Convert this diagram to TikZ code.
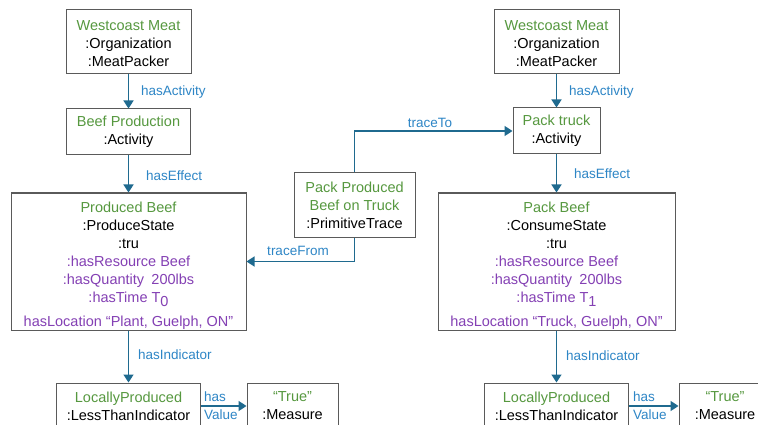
\documentclass[tikz,border=0pt]{standalone}
\usepackage{fontspec}
\setmainfont{Liberation Sans}
\usetikzlibrary{arrows.meta}
\definecolor{tgreen}{HTML}{56983F}
\definecolor{tblue}{HTML}{2E86C6}
\definecolor{tpurple}{HTML}{8440B4}
\definecolor{tarrow}{HTML}{1F6A8F}
\definecolor{tborder}{HTML}{5A5A5A}
\newcommand{\gr}[1]{\textcolor{tgreen}{#1}}
\newcommand{\pu}[1]{\textcolor{tpurple}{#1}}
\begin{document}
\begin{tikzpicture}[x=1pt,y=-1pt,
 box/.style={draw=tborder, line width=1pt, align=center, inner sep=0pt, font=\fontsize{14.5}{18}\selectfont, text=black},
 conn/.style={draw=tarrow, line width=1.6pt, -{Triangle[length=8pt,width=10pt]}},
 lbl/.style={text=tblue, font=\fontsize{13.5}{18}\selectfont, inner sep=0pt, align=left},
]
\useasboundingbox (0,0) rectangle (758,425);
\fill[white] (0,0) rectangle (758,425);
\clip (0,0) rectangle (758,425);
% left column
\node[box, minimum width=125pt, minimum height=64pt] (wm1) at (128.5,42) {\rule{0pt}{13pt}\gr{Westcoast Meat}\\:Organization\\:MeatPacker};
\node[box, minimum width=124pt, minimum height=46pt] (bp) at (128.5,132) {\gr{Beef Production}\\:Activity};
\node[box, minimum width=235pt, minimum height=137pt] (pb1) at (128.5,261.5) {\rule{0pt}{19pt}\gr{Produced Beef}\\:ProduceState\\:tru\\\pu{:hasResource Beef}\\\pu{:hasQuantity\hspace{0.5em}200lbs}\\\pu{:hasTime T\raisebox{-4pt}{0}}\\[6pt]\pu{hasLocation “Plant, Guelph, ON”}};
\node[box, minimum width=144pt, minimum height=46pt] (lp1) at (128.5,406) {\gr{LocallyProduced}\\:LessThanIndicator};
\node[box, minimum width=91pt, minimum height=46pt] (tr1) at (292.5,406) {\gr{“True”}\\:Measure};
% middle
\node[box, minimum width=121pt, minimum height=64pt] (pt) at (354.5,205) {\gr{Pack Produced}\\\gr{Beef on Truck}\\:PrimitiveTrace};
% right column
\node[box, minimum width=125pt, minimum height=64pt] (wm2) at (556.5,42) {\rule{0pt}{13pt}\gr{Westcoast Meat}\\:Organization\\:MeatPacker};
\node[box, minimum width=87pt, minimum height=46pt] (ptk) at (556.5,131) {\gr{Pack truck}\\:Activity};
\node[box, minimum width=237pt, minimum height=137pt] (pb2) at (556.5,261.5) {\rule{0pt}{19pt}\gr{Pack Beef}\\:ConsumeState\\:tru\\\pu{:hasResource Beef}\\\pu{:hasQuantity\hspace{0.5em}200lbs}\\\pu{:hasTime T\raisebox{-4pt}{1}}\\[6pt]\pu{hasLocation “Truck, Guelph, ON”}};
\node[box, minimum width=144pt, minimum height=46pt] (lp2) at (556.5,406) {\gr{LocallyProduced}\\:LessThanIndicator};
\node[box, minimum width=92pt, minimum height=46pt] (tr2) at (725,406) {\gr{“True”}\\:Measure};
% connectors
\draw[conn] (wm1) -- (bp);
\draw[conn] (bp) -- (pb1);
\draw[conn] (pb1) -- (lp1);
\draw[conn] (lp1) -- (tr1);
\draw[conn] (wm2) -- (ptk);
\draw[conn] (ptk) -- (pb2);
\draw[conn] (pb2) -- (lp2);
\draw[conn] (lp2) -- (tr2);
\draw[conn] (pt.north) |- (ptk.west);
\draw[conn] (pt.south) |- (pb1.east);
% labels
\node[lbl, anchor=west] (l1) at (141,92) {hasActivity};
\node[lbl, anchor=west] (l2) at (146,176) {hasEffect};
\node[lbl, anchor=west] (l3) at (138,355) {hasIndicator};
\node[lbl, anchor=west] (l4) at (204,406) {has\\Value};
\node[lbl, anchor=west] (l5) at (569,92) {hasActivity};
\node[lbl, anchor=west] (l6) at (574,174) {hasEffect};
\node[lbl, anchor=west] (l7) at (566,356) {hasIndicator};
\node[lbl, anchor=west] (l8) at (633,406) {has\\Value};
\node[lbl] (l9) at (430,123) {traceTo};
\node[lbl] (l10) at (298,251) {traceFrom};
\end{tikzpicture}
\end{document}
